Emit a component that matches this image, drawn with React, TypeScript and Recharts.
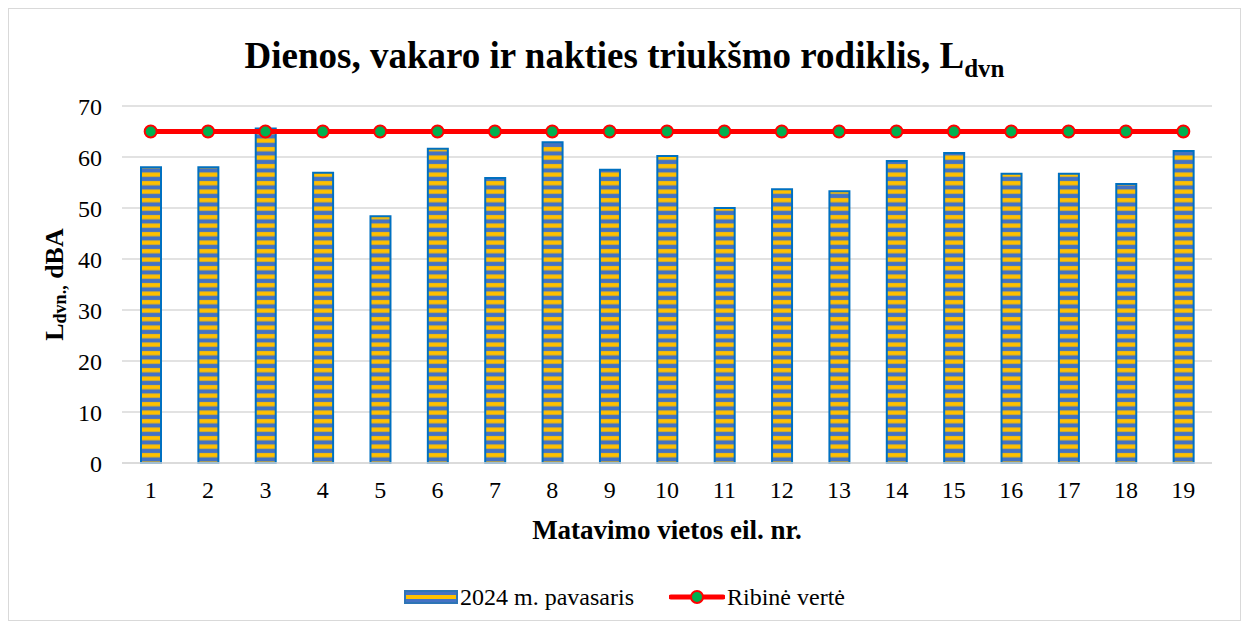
import { Bar, CartesianGrid, ComposedChart, Label, Line, XAxis, YAxis } from "recharts"

const places = ["1", "2", "3", "4", "5", "6", "7", "8", "9", "10", "11", "12", "13", "14", "15", "16", "17", "18", "19"]
const spring2024 = [58.0, 58.0, 65.6, 56.9, 48.4, 61.6, 55.9, 62.9, 57.5, 60.2, 50.0, 53.7, 53.3, 59.2, 60.8, 56.7, 56.7, 54.7, 61.2]
const limit = [65, 65, 65, 65, 65, 65, 65, 65, 65, 65, 65, 65, 65, 65, 65, 65, 65, 65, 65]
const yTicks = [0, 10, 20, 30, 40, 50, 60, 70]

const data = places.map((place, i) => ({
    place,
    spring: spring2024[i],
    limit: limit[i],
}))

const font = '"Liberation Serif", "DejaVu Serif", serif'

function YTitle(props: any) {
    const { viewBox } = props
    const cx = viewBox.x + 45
    const cy = viewBox.y + viewBox.height / 2
    return (
        <text
            x={cx}
            y={cy}
            transform={`rotate(-90, ${cx}, ${cy})`}
            textAnchor="middle"
            dominantBaseline="central"
            fontFamily={font}
            fontWeight="bold"
            fontSize={26}
            fill="#000"
        >
            L<tspan fontSize={18} dy={6}>dvn.,</tspan><tspan dy={-6}> dBA</tspan>
        </text>
    )
}

function XTitle(props: any) {
    const { viewBox } = props
    return (
        <text
            x={viewBox.x + viewBox.width / 2}
            y={viewBox.y + 67}
            textAnchor="middle"
            dominantBaseline="central"
            fontFamily={font}
            fontWeight="bold"
            fontSize={27}
            fill="#000"
        >
            Matavimo vietos eil. nr.
        </text>
    )
}

function App() {
    return (
        <div
            style={{
                position: "relative",
                width: 1233,
                height: 613,
                boxSizing: "border-box",
                border: "1px solid #d9d9d9",
                background: "#fff",
                fontFamily: font,
            }}
        >
            <div
                style={{
                    position: "absolute",
                    top: 28,
                    left: 0,
                    width: "100%",
                    textAlign: "center",
                    fontSize: 37,
                    fontWeight: "bold",
                    lineHeight: 1,
                    color: "#000",
                }}
            >
                Dienos, vakaro ir nakties triuk{"\u0161"}mo rodiklis, L
                <span style={{ fontSize: 25, position: "relative", top: 9 }}>dvn</span>
            </div>

            <ComposedChart
                width={1231}
                height={611}
                data={data}
                margin={{ top: 97, right: 28, bottom: 0, left: 0 }}
            >
                <defs>
                    <pattern id="stripes" patternUnits="userSpaceOnUse" width={10} height={8.5}>
                        <rect x={0} y={0} width={10} height={8.5} fill="#4472C4" />
                        <rect x={0} y={2} width={10} height={4.3} fill="#FFC000" />
                    </pattern>
                </defs>

                <CartesianGrid vertical={false} stroke="#d9d9d9" strokeWidth={1.5} />

                <XAxis
                    dataKey="place"
                    height={157}
                    tickLine={false}
                    axisLine={{ stroke: "#d9d9d9", strokeWidth: 1.5 }}
                    tickMargin={12}
                    tick={{ fill: "#000", fontSize: 24, fontFamily: font }}
                >
                    <Label content={<XTitle />} />
                </XAxis>

                <YAxis
                    width={113}
                    domain={[0, 70]}
                    ticks={yTicks}
                    tickLine={false}
                    axisLine={false}
                    tickMargin={14}
                    tick={{ fill: "#000", fontSize: 24, fontFamily: font }}
                >
                    <Label content={<YTitle />} />
                </YAxis>

                <Bar
                    dataKey="spring"
                    barSize={20}
                    fill="url(#stripes)"
                    stroke="#0070C0"
                    strokeWidth={2}
                    isAnimationActive={false}
                />

                <Line
                    dataKey="limit"
                    stroke="#FF0000"
                    strokeWidth={5}
                    dot={{ r: 6, fill: "#00B050", stroke: "#FF0000", strokeWidth: 2 }}
                    activeDot={false}
                    isAnimationActive={false}
                />
            </ComposedChart>

            <div
                style={{
                    position: "absolute",
                    top: 576,
                    left: 0,
                    width: "100%",
                    display: "flex",
                    justifyContent: "center",
                    alignItems: "center",
                    fontSize: 24,
                    color: "#000",
                    lineHeight: 1,
                }}
            >
                <div style={{ display: "flex", alignItems: "center", marginRight: 35 }}>
                    <svg width={54} height={14} style={{ marginRight: 2 }}>
                        <rect x={1} y={1} width={52} height={12} fill="#4472C4" stroke="#2E75B6" strokeWidth={2} />
                        <rect x={2} y={5} width={50} height={4} fill="#FFC000" />
                    </svg>
                    <span>2024 m. pavasaris</span>
                </div>
                <div style={{ display: "flex", alignItems: "center" }}>
                    <svg width={56} height={16} style={{ marginRight: 2 }}>
                        <line x1={2} y1={8} x2={54} y2={8} stroke="#FF0000" strokeWidth={5} strokeLinecap="round" />
                        <circle cx={28} cy={8} r={6} fill="#00B050" stroke="#FF0000" strokeWidth={2} />
                    </svg>
                    <span>{"Ribin\u0117 vert\u0117"}</span>
                </div>
            </div>
        </div>
    )
}

export default App
